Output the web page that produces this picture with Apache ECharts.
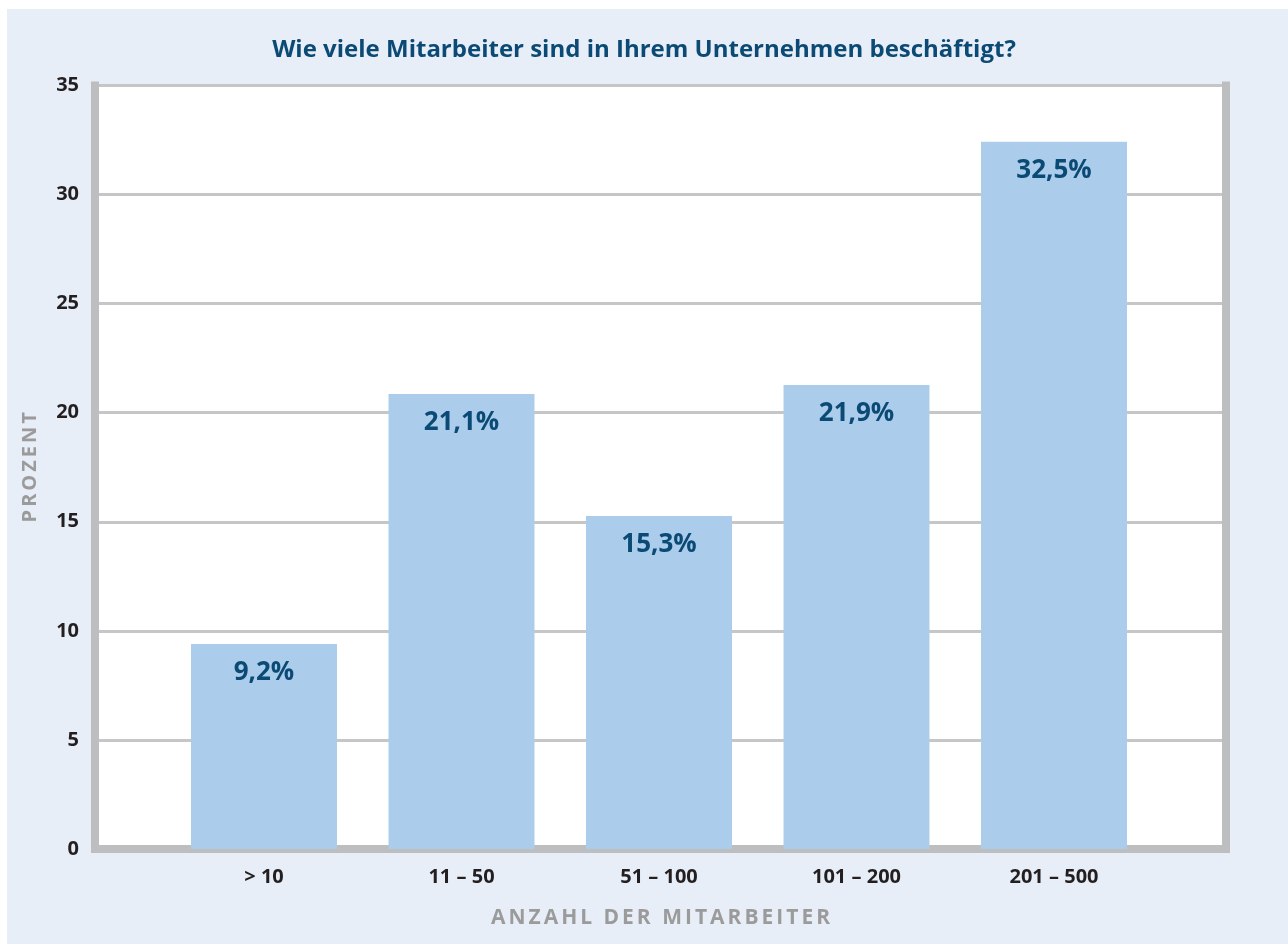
<!DOCTYPE html>
<html>
<head>
<meta charset="utf-8">
<script src="https://cdn.jsdelivr.net/npm/echarts@6/dist/echarts.min.js"></script>
<style>
html,body{margin:0;padding:0;background:#ffffff;}
#bg{position:absolute;left:7px;top:9px;width:1281px;height:935px;background:#e8eef8;}
#chart{position:absolute;left:0;top:0;width:1288px;height:944px;}
</style>
</head>
<body>
<div id="bg"></div>
<div id="chart"></div>
<script>
const categories = ['> 10', '11 – 50', '51 – 100', '101 – 200', '201 – 500'];
const barValues = [9.4, 20.86, 15.27, 21.27, 32.42];
const barLabels = ['9,2%', '21,1%', '15,3%', '21,9%', '32,5%'];
const yTicks = [0, 5, 10, 15, 20, 25, 30, 35];

const FONT = '"Open Sans", "Noto Sans", sans-serif';
const AXIS_GREY = '#bdbebf';
const SPACED = {'ANZAHL DER MITARBEITER': 3, 'PROZENT': 3};

// letter-spaced axis names (canvas letterSpacing), text stays real text
(function () {
  const proto = CanvasRenderingContext2D.prototype;
  const orig = proto.fillText;
  proto.fillText = function (t, x, y, w) {
    const sp = SPACED[t];
    if (sp && 'letterSpacing' in this) {
      const f = this.font;
      this.letterSpacing = sp + 'px';
      this.font = f;
      const dx = this.textAlign === 'center' ? sp / 2 : 0;
      const r = orig.call(this, t, x + dx, y);
      this.letterSpacing = '0px';
      this.font = 'bold 1px sans-serif';
      this.font = f;
      return r;
    }
    return w === undefined ? orig.call(this, t, x, y) : orig.call(this, t, x, y, w);
  };
})();

const chart = echarts.init(document.getElementById('chart'), null, {renderer: 'canvas'});
chart.setOption({
  backgroundColor: 'transparent',
  animation: false,
  title: {
    text: 'Wie viele Mitarbeiter sind in Ihrem Unternehmen beschäftigt?',
    left: 'center',
    top: 33,
    textStyle: {color: '#0b4a74', fontFamily: FONT, fontWeight: 'bold', fontSize: 24}
  },
  grid: [
    {left: 95, right: 62, top: 85.5, bottom: 95, show: true, backgroundColor: '#ffffff', borderWidth: 0},
    {left: 165.25, right: 135.25, top: 85.5, bottom: 95}
  ],
  xAxis: [
    {
      gridIndex: 0, type: 'value', min: 0, max: 1,
      axisLine: {show: true, lineStyle: {color: AXIS_GREY, width: 8, cap: 'square'}},
      axisTick: {show: false}, axisLabel: {show: false}, splitLine: {show: false},
      name: 'ANZAHL DER MITARBEITER', nameLocation: 'middle', nameGap: 59,
      nameTextStyle: {color: '#9b9b9b', fontFamily: FONT, fontWeight: 'bold', fontSize: 21}
    },
    {
      gridIndex: 1, type: 'category', data: categories,
      axisLine: {show: false}, axisTick: {show: false},
      axisLabel: {color: '#231f20', fontFamily: FONT, fontWeight: 'bold', fontSize: 20, margin: 18}
    }
  ],
  yAxis: [
    {
      gridIndex: 0, type: 'value', min: yTicks[0], max: yTicks[yTicks.length - 1], interval: 5,
      axisLine: {show: true, lineStyle: {color: AXIS_GREY, width: 8, cap: 'square'}},
      axisTick: {show: false},
      axisLabel: {color: '#231f20', fontFamily: FONT, fontWeight: 'bold', fontSize: 20, margin: 16},
      splitLine: {show: true, lineStyle: {color: '#c6c6c6', width: 3}},
      name: 'PROZENT', nameLocation: 'middle', nameGap: 55, nameRotate: 90,
      nameTextStyle: {color: '#9b9b9b', fontFamily: FONT, fontWeight: 'bold', fontSize: 20}
    },
    {
      gridIndex: 0, type: 'value', position: 'right', min: 0, max: 35, interval: 5,
      axisLine: {show: true, lineStyle: {color: AXIS_GREY, width: 8, cap: 'square'}},
      axisTick: {show: false}, axisLabel: {show: false}, splitLine: {show: false}
    },
    {
      gridIndex: 1, type: 'value', min: 0, max: 35, show: false
    }
  ],
  series: [{
    type: 'bar',
    xAxisIndex: 1, yAxisIndex: 2,
    data: barValues,
    barWidth: 146,
    itemStyle: {color: '#abcdeb'},
    z: 3,
    label: {
      show: true, position: 'insideTop', distance: 16,
      formatter: p => barLabels[p.dataIndex],
      color: '#0b4a74', fontFamily: FONT, fontWeight: 'bold', fontSize: 26
    }
  }]
});
</script>
</body>
</html>
